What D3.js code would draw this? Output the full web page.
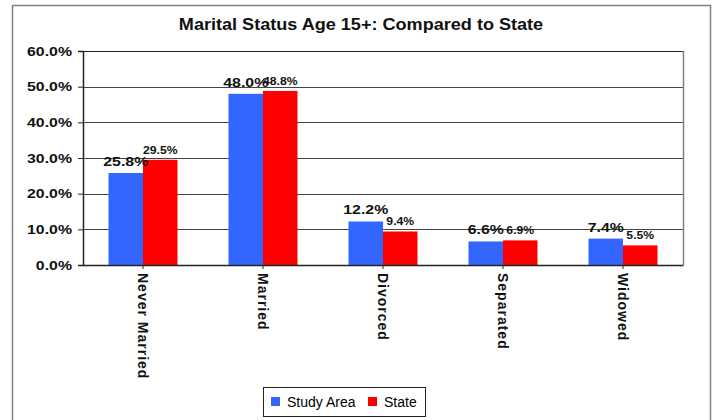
<!DOCTYPE html>
<html>
<head>
<meta charset="utf-8">
<script src="https://cdn.jsdelivr.net/npm/d3@7"></script>
<style>
  body { margin: 0; background: #fff; }
  svg text { font-family: "Liberation Sans", Arial, sans-serif; }
</style>
</head>
<body>
<svg id="chart"></svg>
<script>
var w = 716;
var h = 420;
let categories = ["Never Married", "Married", "Divorced", "Separated", "Widowed"];
let studyArea = [25.8, 48.0, 12.2, 6.6, 7.4];
let state = [29.5, 48.8, 9.4, 6.9, 5.5];
let seriesNames = ["Study Area", "State"];
let colors = ["#3366ff", "#ff0000"];
let yTicks = [0, 10, 20, 30, 40, 50, 60];

var margin = { left: 83, top: 51, right: 33, bottom: 155 };
var pw = w - margin.left - margin.right;
var ph = h - margin.top - margin.bottom;
// the original text is drawn a bit wide
var stretch = 1.22;

var svg = d3.select("#chart")
    .attr("width", w)
    .attr("height", h);

// outer frame
svg.append("rect")
    .attr("x", 12.5).attr("y", 5.5)
    .attr("width", 698).attr("height", 430)
    .attr("fill", "none")
    .attr("stroke", "#808080")
    .attr("stroke-width", 1.5);

svg.append("text")
    .attr("transform", "translate(361,30) scale(1.13,1)")
    .attr("text-anchor", "middle")
    .attr("font-size", 16)
    .attr("font-weight", "bold")
    .attr("fill", "#111")
    .text("Marital Status Age 15+: Compared to State");

var g = svg.append("g").attr("transform", `translate(${margin.left},${margin.top})`);

var x = d3.scaleBand().domain(categories).range([0, pw]);
var y = d3.scaleLinear().domain([0, 60]).range([ph, 0]);
var barW = 34.5;

// gridlines
g.selectAll(".grid")
    .data(yTicks.slice(1))
    .enter()
    .append("line")
    .attr("x1", 0).attr("x2", pw)
    .attr("y1", d => Math.round(y(d)) + 0.5)
    .attr("y2", d => Math.round(y(d)) + 0.5)
    .attr("stroke", d => d == 60 ? "#222" : "#444")
    .attr("stroke-width", 1.2);

// right border
g.append("line")
    .attr("x1", pw + 0.5).attr("x2", pw + 0.5)
    .attr("y1", 0).attr("y2", ph)
    .attr("stroke", "#808080").attr("stroke-width", 1.5);

var data = categories.map((c, i) => ({ cat: c, vals: [studyArea[i], state[i]] }));

var groups = g.selectAll(".grp")
    .data(data)
    .enter()
    .append("g")
    .attr("transform", d => `translate(${x(d.cat) + x.bandwidth() / 2},0)`);

groups.selectAll("rect")
    .data(d => d.vals)
    .enter()
    .append("rect")
    .attr("x", (d, i) => i == 0 ? -barW : 0)
    .attr("y", d => y(d))
    .attr("width", barW)
    .attr("height", d => ph - y(d))
    .attr("fill", (d, i) => colors[i]);

// value labels
groups.selectAll(".lbl")
    .data(d => d.vals)
    .enter()
    .append("text")
    .attr("transform", (d, i) => `translate(${i == 0 ? -barW / 2 : barW / 2},${y(d) - (i == 0 ? 7 : 6)}) scale(${stretch},1)`)
    .attr("text-anchor", "middle")
    .attr("font-weight", "bold")
    .attr("fill", "#111")
    .attr("font-size", (d, i) => i == 0 ? 13 : 10)
    .text(d => d.toFixed(1) + "%");

// y axis
var yAxis = g.append("g")
    .call(d3.axisLeft(y).tickValues(yTicks).tickSize(5).tickFormat(d => d.toFixed(1) + "%"));
yAxis.select(".domain").attr("stroke", "#222").attr("stroke-width", 1.5);
yAxis.selectAll("line").attr("stroke", "#222");
yAxis.selectAll("text")
    .attr("font-family", "Liberation Sans, Arial, sans-serif")
    .attr("font-size", 13)
    .attr("font-weight", "bold")
    .attr("fill", "#111")
    .attr("x", 0)
    .attr("transform", `translate(-11,0) scale(${stretch},1)`);

// x axis
var xAxis = g.append("g")
    .attr("transform", `translate(0,${ph})`)
    .call(d3.axisBottom(x).tickSize(4).tickSizeOuter(0));
xAxis.select(".domain").attr("stroke", "#222").attr("stroke-width", 1.5);
xAxis.selectAll("line").attr("stroke", "#222");
xAxis.selectAll("text")
    .attr("font-family", "Liberation Sans, Arial, sans-serif")
    .attr("font-size", 14)
    .attr("font-weight", "bold")
    .attr("fill", "#111")
    .attr("letter-spacing", 1)
    .attr("text-anchor", "start")
    .attr("dy", "0.35em")
    .attr("transform", "rotate(90)")
    .attr("x", 8).attr("y", 0);

// legend
var leg = svg.append("g").attr("transform", "translate(263,387)");
leg.append("rect")
    .attr("x", 0.5).attr("y", 0.5)
    .attr("width", 162).attr("height", 29)
    .attr("fill", "#fff").attr("stroke", "#222");
var legX = [8, 105];
seriesNames.forEach((s, i) => {
    leg.append("rect")
        .attr("x", legX[i]).attr("y", 10)
        .attr("width", 9).attr("height", 9)
        .attr("fill", colors[i]);
    leg.append("text")
        .attr("x", legX[i] + 16).attr("y", 19.5)
        .attr("font-size", 14)
        .text(s);
});
</script>
</body>
</html>
